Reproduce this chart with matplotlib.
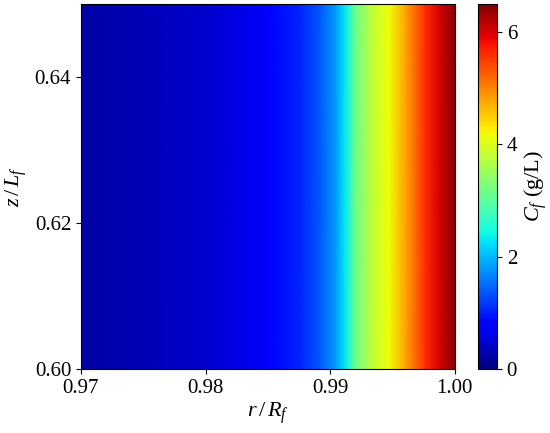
import numpy as np
import matplotlib
matplotlib.use("Agg")
import matplotlib.pyplot as plt

# font setup - serif look
plt.rcParams["font.family"] = "Liberation Serif"
plt.rcParams["mathtext.fontset"] = "custom"
plt.rcParams["mathtext.rm"] = "Liberation Serif"
plt.rcParams["mathtext.it"] = "Liberation Serif:italic"
plt.rcParams["font.size"] = 15

# radial positions and concentration
r_vals = [0.970, 0.975, 0.980, 0.9852, 0.9876, 0.9892, 0.9904, 0.9912,
          0.9920, 0.9934, 0.9947, 0.9960, 0.9976, 0.9988, 1.000]
c_vals = [0.22, 0.32, 0.45, 0.78, 1.05, 1.38, 1.80, 2.30,
          3.10, 3.80, 4.15, 4.75, 5.60, 6.00, 6.45]
z_vals = [0.60, 0.65]

# same profile at every axial position
C = np.array([c_vals for _ in z_vals])

fig = plt.figure(figsize=(5.5, 4.33), dpi=100)
ax = fig.add_axes([0.147, 0.148, 0.68, 0.843])
cax = fig.add_axes([0.869, 0.148, 0.0345, 0.843])

mesh = ax.pcolormesh(r_vals, z_vals, C, cmap="jet", shading="gouraud",
                     vmin=0, vmax=6.5)
ax.set_xlim(0.97, 1.00)
ax.set_ylim(0.60, 0.65)
ax.set_xticks([0.97, 0.98, 0.99, 1.00])
ax.set_xticklabels(["0.97", "0.98", "0.99", "1.00"])
ax.set_yticks([0.60, 0.62, 0.64])
ax.set_yticklabels(["0.60", "0.62", "0.64"])
ax.set_xlabel(r"$r\,/\,R_f$", fontsize=16, labelpad=2)
ax.set_ylabel(r"$z\,/\,L_f$", fontsize=16)

cb = fig.colorbar(mesh, cax=cax)
cb.set_ticks([0, 2, 4, 6])
cb.set_label(r"$C_f$ (g/L)", fontsize=16)
cb.outline.set_linewidth(0.8)

plt.savefig("out.png", dpi=100)
